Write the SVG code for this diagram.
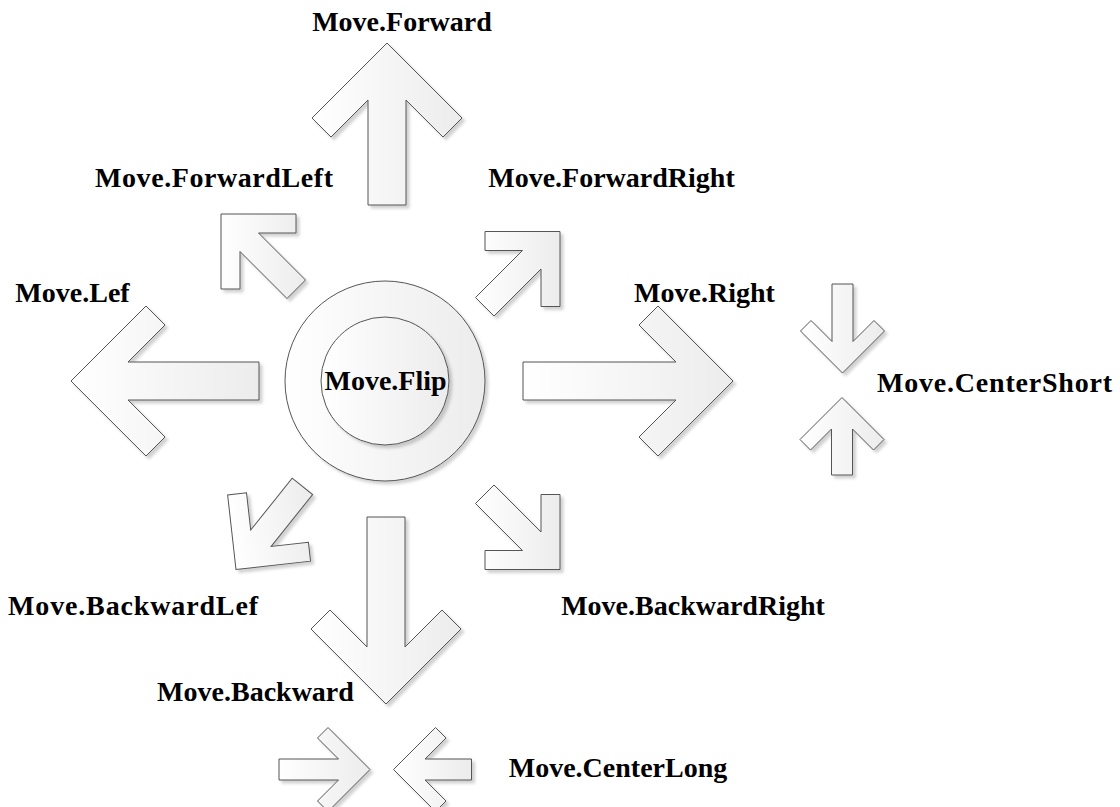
<svg xmlns="http://www.w3.org/2000/svg" width="1120" height="807" viewBox="0 0 1120 807">
  <defs>
    <linearGradient id="g" x1="0" y1="0" x2="1" y2="0">
      <stop offset="0" stop-color="#ffffff"/>
      <stop offset="1" stop-color="#ececec"/>
    </linearGradient>
    <filter id="sh" x="-10%" y="-10%" width="130%" height="130%">
      <feDropShadow dx="3" dy="3" stdDeviation="1.5" flood-color="#000" flood-opacity="0.18"/>
    </filter>
    <style>
      .s { fill: url(#g); stroke: #555; stroke-width: 1; stroke-linejoin: miter; }
      .t { font-family: "Liberation Serif", "Times New Roman", serif; font-weight: bold; font-size: 28px; fill: #000; text-anchor: middle; }
    </style>
  </defs>
  <rect width="1120" height="807" fill="#ffffff"/>

  <g id="move-forward">
    <polygon class="s" filter="url(#sh)" points="387,43 462,118 443,137 406,100 406,205 368,205 368,100 331,137 312,118"/>
    <text class="t" x="402" y="31">Move.Forward</text>
  </g>

  <g id="move-forward-left">
    <polygon class="s" filter="url(#sh)" points="221,214 296,214 296,233 258.5,233 305.5,280 287,298.5 240,251.5 240,289 221,289"/>
    <text class="t" x="214" y="187" textLength="238" lengthAdjust="spacing">Move.ForwardLeft</text>
  </g>

  <g id="move-forward-right">
    <polygon class="s" filter="url(#sh)" points="560,231.5 485,231.5 485,250.5 522.5,250.5 475.5,297.5 494,316 541,269 541,306.5 560,306.5"/>
    <text class="t" x="611.5" y="187">Move.ForwardRight</text>
  </g>

  <g id="move-left">
    <polygon class="s" filter="url(#sh)" points="71,381 146,306 165,325 128,362 259,362 259,400 128,400 165,437 146,456"/>
    <text class="t" x="72.5" y="302">Move.Lef</text>
  </g>

  <g id="move-right">
    <polygon class="s" filter="url(#sh)" points="733,381 658,306 639,325 676,362 523,362 523,400 676,400 639,437 658,456"/>
    <text class="t" x="704.5" y="302">Move.Right</text>
  </g>

  <g id="move-flip">
    <circle class="s" filter="url(#sh)" cx="385" cy="381" r="100"/>
    <circle class="s" filter="url(#sh)" cx="385" cy="381" r="64"/>
    <text class="t" x="385.5" y="390">Move.Flip</text>
  </g>

  <g id="move-center-short">
    <polygon class="s" filter="url(#sh)" points="842.5,373 800.5,331 811,320.5 832,341.5 832,284 853,284 853,341.5 874,320.5 884.5,331"/>
    <polygon class="s" filter="url(#sh)" points="842,397.5 800,439.5 810.5,450 831.5,429 831.5,475 852.5,475 852.5,429 873.5,450 884,439.5"/>
    <text class="t" x="994.5" y="392" textLength="235" lengthAdjust="spacing">Move.CenterShort</text>
  </g>

  <g id="move-backward-left">
    <g filter="url(#sh)">
      <polygon class="s" transform="translate(236,569.5) rotate(-6.4)" points="0,0 0,-75 19,-75 19,-37.5 66,-84.5 84.5,-66 37.5,-19 75,-19 75,0"/>
    </g>
    <text class="t" x="133" y="615" textLength="250" lengthAdjust="spacing">Move.BackwardLef</text>
  </g>

  <g id="move-backward-right">
    <polygon class="s" filter="url(#sh)" points="560,569.5 560,494.5 541,494.5 541,532 494,485 475.5,503.5 522.5,550.5 485,550.5 485,569.5"/>
    <text class="t" x="693" y="615">Move.BackwardRight</text>
  </g>

  <g id="move-backward">
    <polygon class="s" filter="url(#sh)" points="386,704 311,629 330,610 367,647 367,517 405,517 405,647 442,610 461,629"/>
    <text class="t" x="255.5" y="701">Move.Backward</text>
  </g>

  <g id="move-center-long">
    <polygon class="s" filter="url(#sh)" points="370,769.5 328,727.5 317.5,738 338.5,759 279,759 279,780 338.5,780 317.5,801 328,811.5"/>
    <polygon class="s" filter="url(#sh)" points="393.5,769.5 435.5,727.5 446,738 425,759 471.5,759 471.5,780 425,780 446,801 435.5,811.5"/>
    <text class="t" x="618" y="777">Move.CenterLong</text>
  </g>
</svg>
